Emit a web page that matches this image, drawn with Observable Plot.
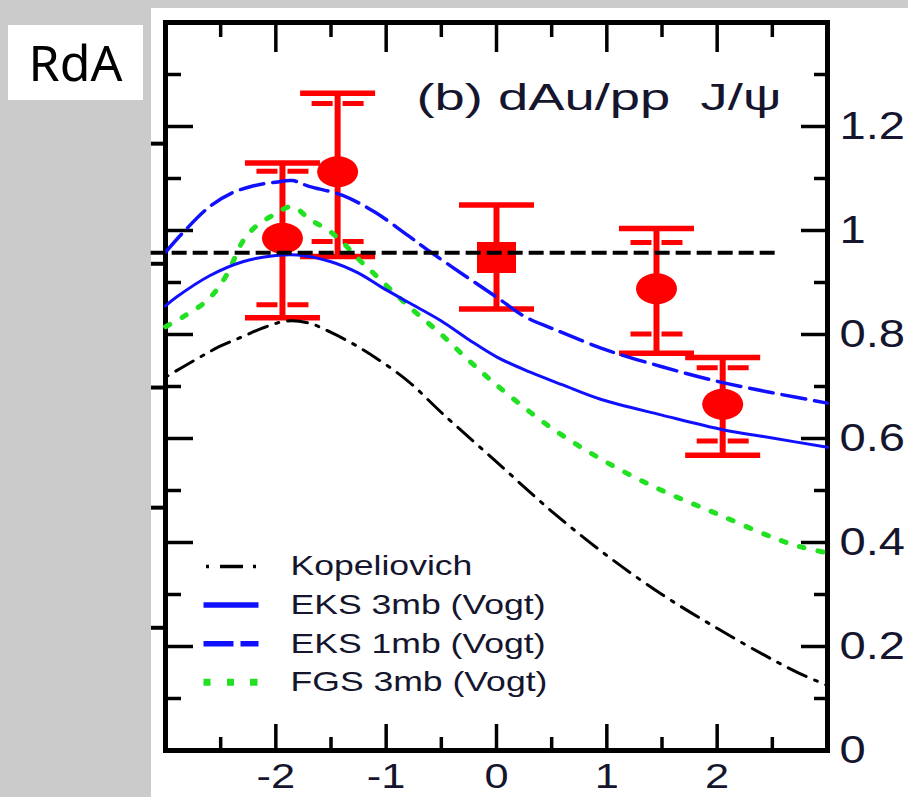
<!DOCTYPE html>
<html><head><meta charset="utf-8">
<script src="https://cdn.jsdelivr.net/npm/d3@7"></script>
<script src="https://cdn.jsdelivr.net/npm/@observablehq/plot@0.6"></script>
<style>
html,body{margin:0;padding:0;background:#cbcbcb;width:908px;height:797px;overflow:hidden;}
#panel{position:absolute;left:151px;top:8px;width:757px;height:789px;background:#fff;}
#tag{position:absolute;left:8px;top:25px;width:135px;height:75px;background:#fff;font-family:"Noto Sans";font-size:50px;line-height:75px;text-align:center;color:#000;}
</style></head><body>
<div id="tag">RdA</div>
<div id="panel"></div>
<script>
// ---- data ----
const rapidity = [-1.94, -1.44, 0, 1.45, 2.05];
const rda      = [0.985, 1.113, 0.948, 0.888, 0.666];
const errLo    = [0.832, 0.950, 0.849, 0.764, 0.568];
const errHi    = [1.130, 1.264, 1.049, 1.004, 0.756];
const sysLo    = [0.857, 0.979, null, 0.801, 0.595];
const sysHi    = [1.114, 1.244, null, 0.977, 0.736];
const marker   = ["circle", "circle", "square", "circle", "circle"];

const kopX = [-3, -2.7, -2.5, -2.3, -2.1, -1.9, -1.7, -1.5, -1.3, -1.1, -0.8, -0.5, 0, 0.5, 1, 1.5, 2, 2.5, 2.75, 3];
const kopY = [0.718, 0.755, 0.778, 0.796, 0.814, 0.826, 0.822, 0.804, 0.782, 0.756, 0.71, 0.65, 0.555, 0.46, 0.375, 0.30, 0.235, 0.175, 0.148, 0.125];

const eks3X = [-3, -2.9, -2.6, -2.3, -2.0, -1.8, -1.5, -1.25, -1.05, -0.8, -0.5, -0.25, 0, 0.3, 0.6, 0.95, 1.5, 2.05, 2.5, 3.0];
const eks3Y = [0.855, 0.872, 0.913, 0.94, 0.952, 0.953, 0.94, 0.918, 0.892, 0.862, 0.826, 0.79, 0.757, 0.728, 0.703, 0.675, 0.645, 0.617, 0.601, 0.583];

const eks1X = [-3, -2.85, -2.6, -2.4, -2.2, -2.0, -1.85, -1.7, -1.4, -1.1, -0.8, -0.6, -0.3, 0, 0.26, 0.5, 1.0, 1.5, 2.0, 2.5, 3.0];
const eks1Y = [0.958, 0.994, 1.046, 1.072, 1.086, 1.093, 1.096, 1.085, 1.068, 1.035, 0.99, 0.959, 0.915, 0.872, 0.834, 0.812, 0.770, 0.738, 0.71, 0.688, 0.668];

const fgsX = [-3, -2.84, -2.61, -2.45, -2.3, -2.18, -2.02, -1.85, -1.69, -1.52, -1.38, -1.25, -1.11, -0.8, -0.5, -0.25, 0, 0.5, 1, 1.5, 2, 2.5, 2.75, 3];
const fgsY = [0.815, 0.834, 0.868, 0.913, 0.979, 1.008, 1.03, 1.046, 1.021, 1.0, 0.974, 0.945, 0.917, 0.855, 0.80, 0.75, 0.703, 0.62, 0.554, 0.50, 0.455, 0.41, 0.392, 0.38];

const refLevel = 0.957;            // horizontal dashed reference
const refFrom = -3.13, refTo = 2.53;

const yMajor = [0.2, 0.4, 0.6, 0.8, 1.0, 1.2];
const yMinor = [0.1, 0.3, 0.5, 0.7, 0.9, 1.1, 1.3];
const yLabels = [0, 0.2, 0.4, 0.6, 0.8, 1, 1.2];
const xMajor = [-2, -1, 0, 1, 2];
const xMinor = [-2.5, -1.5, -0.5, 0.5, 1.5, 2.5];
const neighbourTicks = [1.167, 0.936, 0.698, 0.467, 0.236];

const title = "(b) dAu/pp\u00a0\u00a0J/\u03c8";
const legendLabels = ["Kopeliovich", "EKS 3mb (Vogt)", "EKS 1mb (Vogt)", "FGS 3mb (Vogt)"];

// ---- build ----
const W = 757, H = 789, mL = 14, mR = 81, mT = 14, mB = 47;
const FW = W - mL - mR, FH = H - mT - mB;
const FONT = "Liberation Sans, Arial, sans-serif";
const INK = "#15152e";
const RED = "#ff0000", BLUE = "#1010ff", GREEN = "#22e022";

const pts = rapidity.map((x, i) => ({x, y: rda[i], lo: errLo[i], hi: errHi[i], slo: sysLo[i], shi: sysHi[i], m: marker[i]}));
const sysPts = pts.filter(d => d.slo != null);
const curve = (X, Y) => X.map((x, i) => ({x, y: Y[i]}));

const ellipse = {draw(c) { const rx = 20.5, ry = 15.5, k = 0.5523;
  c.moveTo(rx, 0);
  c.bezierCurveTo(rx, ry * k, rx * k, ry, 0, ry);
  c.bezierCurveTo(-rx * k, ry, -rx, ry * k, -rx, 0);
  c.bezierCurveTo(-rx, -ry * k, -rx * k, -ry, 0, -ry);
  c.bezierCurveTo(rx * k, -ry, rx, -ry * k, rx, 0);
  c.closePath(); }};
const box = {draw(c) { c.rect(-19.5, -15.5, 39, 31); }};
const cap = {draw(c) { c.moveTo(-37.5, 0); c.lineTo(37.5, 0); }};
const sysCap = {draw(c) { c.moveTo(-26, 0); c.lineTo(-5, 0); c.moveTo(5, 0); c.lineTo(26, 0); }};
const segs = list => ({draw(c) { list.forEach(([a, b]) => { c.moveTo(a, 0); c.lineTo(b, 0); }); }});

const legendStyles = [
  {symbol: segs([[-25, -22], [-11, 12], [22, 25]]), stroke: "#000", strokeWidth: 3.5},
  {symbol: segs([[-27.5, 27.5]]), stroke: BLUE, strokeWidth: 5.5},
  {symbol: segs([[-27.5, 2.5], [9.5, 27.5]]), stroke: BLUE, strokeWidth: 5.5},
  {symbol: segs([[-27.5, -20.5], [-4, 3], [19, 26.5]]), stroke: GREEN, strokeWidth: 7}
];
const legendMarks = legendLabels.flatMap((lab, i) => [
  Plot.dot([lab], {frameAnchor: "bottom-left", dx: 65.5, dy: -184 + 38.6 * i, fill: "none", ...legendStyles[i]}),
  Plot.text([lab], {frameAnchor: "bottom-left", dx: 125, dy: -184 + 38.6 * i, text: d => d, textAnchor: "start", lineAnchor: "middle", fontSize: 28, fontFamily: FONT, fill: INK})
]);

const chart = Plot.plot({
  width: W, height: H, marginLeft: mL, marginRight: mR, marginTop: mT, marginBottom: mB,
  style: {background: "transparent", overflow: "visible"},
  x: {domain: [-3, 3], axis: null},
  y: {domain: [0, 1.4], axis: null},
  marks: [
    // ticks
    Plot.tickY(yMajor, {y: d => d, insetLeft: FW - 26, stroke: "#000", strokeWidth: 3.5}),
    Plot.tickY(yMinor, {y: d => d, insetLeft: FW - 13, stroke: "#000", strokeWidth: 3.5}),
    Plot.tickY(yMajor, {y: d => d, insetRight: FW - 28, stroke: "#000", strokeWidth: 3.5}),
    Plot.tickY(yMinor, {y: d => d, insetRight: FW - 16, stroke: "#000", strokeWidth: 3.5}),
    Plot.tickY(neighbourTicks, {y: d => d, insetLeft: -14, insetRight: FW, stroke: "#000", strokeWidth: 4}),
    Plot.tickX(xMajor, {x: d => d, insetTop: FH - 26, stroke: "#000", strokeWidth: 3.5}),
    Plot.tickX(xMinor, {x: d => d, insetTop: FH - 13, stroke: "#000", strokeWidth: 3.5}),
    Plot.tickX(xMajor, {x: d => d, insetBottom: FH - 30, stroke: "#000", strokeWidth: 3.5}),
    Plot.tickX(xMinor, {x: d => d, insetBottom: FH - 15, stroke: "#000", strokeWidth: 3.5}),
    Plot.frame({stroke: "#000", strokeWidth: 5}),
    // data
    Plot.ruleX(pts, {x: "x", y1: "lo", y2: "hi", stroke: RED, strokeWidth: 6}),
    Plot.dot(pts, {x: "x", y: "hi", symbol: cap, fill: "none", stroke: RED, strokeWidth: 5.5}),
    Plot.dot(pts, {x: "x", y: "lo", symbol: cap, fill: "none", stroke: RED, strokeWidth: 5.5}),
    Plot.dot(sysPts, {x: "x", y: "shi", symbol: sysCap, fill: "none", stroke: RED, strokeWidth: 5}),
    Plot.dot(sysPts, {x: "x", y: "slo", symbol: sysCap, fill: "none", stroke: RED, strokeWidth: 5}),
    Plot.dot(pts.filter(d => d.m === "circle"), {x: "x", y: "y", symbol: ellipse, fill: RED, stroke: "none"}),
    Plot.dot(pts.filter(d => d.m === "square"), {x: "x", y: "y", symbol: box, fill: RED, stroke: "none"}),
    // models
    Plot.line(curve(kopX, kopY), {x: "x", y: "y", curve: "catmull-rom", stroke: "#000", strokeWidth: 3, strokeDasharray: "3,9,20,9"}),
    Plot.line(curve(fgsX, fgsY), {x: "x", y: "y", curve: "catmull-rom", stroke: GREEN, strokeWidth: 5, strokeDasharray: "5,14"}),
    Plot.line(curve(eks3X, eks3Y), {x: "x", y: "y", curve: "catmull-rom", stroke: BLUE, strokeWidth: 3}),
    Plot.line(curve(eks1X, eks1Y), {x: "x", y: "y", curve: "catmull-rom", stroke: BLUE, strokeWidth: 3.5, strokeDasharray: "24,9"}),
    Plot.ruleY([refLevel], {x1: refFrom, x2: refTo, stroke: "#000", strokeWidth: 4, strokeDasharray: "15,6"}),
    // labels
    Plot.text(yLabels, {y: d => d, text: d => String(d), frameAnchor: "right", dx: 12, textAnchor: "start", lineAnchor: "middle", fontSize: 38, fontFamily: FONT, fill: INK}),
    Plot.text(xMajor, {x: d => d, text: d => String(d), frameAnchor: "bottom", dy: 26, lineAnchor: "middle", fontSize: 35, fontFamily: FONT, fill: INK}),
    Plot.text([title], {frameAnchor: "top-right", dx: -46, dy: 76, text: d => d, textAnchor: "end", lineAnchor: "middle", fontSize: 36, fontFamily: FONT, fill: INK}),
    ...legendMarks
  ]
});
document.getElementById("panel").appendChild(chart);

// the reference is horizontally stretched: widen glyphs accordingly
chart.querySelectorAll("text").forEach(t => {
  const s = t.textContent;
  const len = t.getComputedTextLength();
  let f = 1.24;
  if (legendLabels.includes(s)) f = 1.27;
  let target = len * f;
  if (s === title) target = 365;
  t.setAttribute("textLength", target.toFixed(1));
  t.setAttribute("lengthAdjust", "spacingAndGlyphs");
});
</script>
</body></html>
